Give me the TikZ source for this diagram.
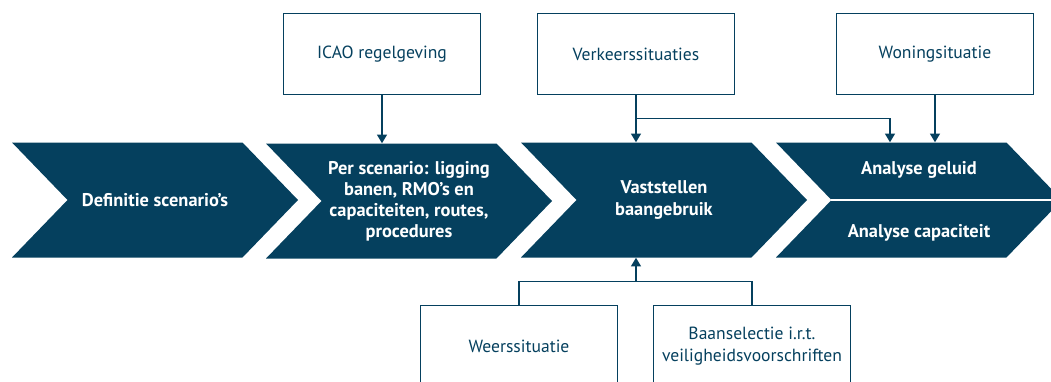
\documentclass[tikz,border=0pt]{standalone}
\usepackage{fontspec}
\setmainfont{PT Sans}
\usetikzlibrary{positioning,arrows.meta,shapes.symbols,calc}
\definecolor{navy}{HTML}{05405E}

\begin{document}
\begin{tikzpicture}[
  x=0.75pt, y=-0.75pt,
  chevron/.style={signal, signal from=west, signal to=east,
                  signal pointer angle=92, fill=navy, draw=none,
                  minimum width=214.5pt, minimum height=86.25pt,
                  inner sep=0pt, align=center, text=white,
                  font=\bfseries\fontsize{13.8}{15.8}\selectfont},
  infobox/.style={draw=navy, line width=1.1pt,
                  minimum width=148pt, minimum height=60.5pt,
                  align=center, text=navy, font=\fontsize{13.2}{17}\selectfont},
  feed/.style={draw=navy, line width=1.1pt,
               -{Triangle[width=7.5pt,length=6.5pt]}},
  link/.style={draw=navy, line width=1.1pt},
  steplabel/.style={text=white, font=\bfseries\fontsize{13.8}{15.8}\selectfont},
  ]
  \useasboundingbox (0,0) rectangle (1051,382);
  \clip (0,0) rectangle (1051,382);

  % process steps
  \node[chevron] (def) at (155,200) {Definitie scenario’s};
  \node[chevron] (scen) at (409,201) {Per scenario: ligging\\ banen, RMO’s en\\
    capaciteiten, routes,\\ procedures};
  \node[chevron] (kern) at (664,200) {Vaststellen\\ baangebruik};
  \node[chevron] (anal) at (919,200) {};
  \draw[white, line width=1.3pt] (anal.west) -- (anal.east);
  \node[steplabel] (geluid) at ($(anal.center)+(0,-30)$) {Analyse geluid};
  \node[steplabel] (capac) at ($(anal.center)+(0,33)$) {Analyse capaciteit};

  % inputs
  \node[infobox] (icao) at (382,54) {ICAO regelgeving};
  \node[infobox] (verk) at (636,54) {Verkeerssituaties};
  \node[infobox] (won) at (935,54) {Woningsituatie};
  \node[infobox] (weer) at (519,346) {Weerssituatie};
  \node[infobox] (baan) at (752,346) {Baanselectie i.r.t.\\ veiligheidsvoorschriften};

  \coordinate (vsplit) at ($(verk.south)!0.5!(verk.south |- kern.north)$);
  \coordinate (bjoin) at ($(kern.south)!0.5!(kern.south |- weer.north)$);

  \draw[feed] (icao.south) -- (icao.south |- scen.north);
  \draw[feed] (verk.south) -- (verk.south |- kern.north);
  \draw[feed] (vsplit) -| ($(anal.north)+(-29,0)$);
  \draw[feed] (won.south) -- (won.south |- anal.north);
  \draw[link] (weer.north) |- (baan.north |- bjoin) -- (baan.north);
  \draw[feed] (verk.south |- bjoin) -- (verk.south |- kern.south);
\end{tikzpicture}
\end{document}
